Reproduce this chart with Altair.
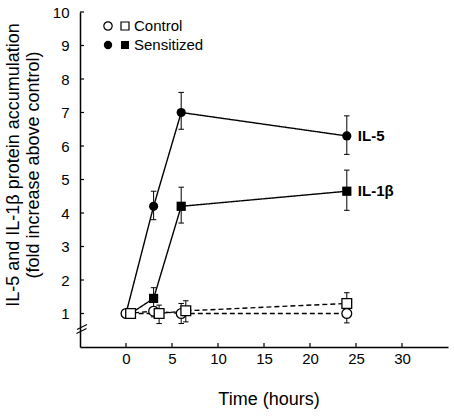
import altair as alt
import pandas as pd

FONT = "Liberation Sans"

# Sampling times (hours); squares are drawn slightly offset from circles
times_circle = [0, 3, 6, 24]
times_square_sens = [0.5, 3, 6, 24]
times_square_ctrl = [0.5, 3.6, 6.5, 24]

# Sensitized
il5_sens = [1.0, 4.2, 7.0, 6.3]
il5_sens_lo = [1.0, 3.8, 6.5, 5.75]
il5_sens_hi = [1.0, 4.65, 7.6, 6.9]
il1b_sens = [1.0, 1.45, 4.2, 4.65]
il1b_sens_lo = [1.0, 1.15, 3.7, 4.08]
il1b_sens_hi = [1.0, 1.77, 4.77, 5.28]

# Control
il5_ctrl = [1.0, 1.07, 1.0, 1.0]
il5_ctrl_lo = [1.0, 0.9, 0.7, 0.72]
il5_ctrl_hi = [1.0, 1.2, 1.3, 1.3]
il1b_ctrl = [1.0, 1.0, 1.08, 1.3]
il1b_ctrl_lo = [1.0, 0.7, 0.75, 1.0]
il1b_ctrl_hi = [1.0, 1.25, 1.38, 1.62]

y_ticks = [1, 2, 3, 4, 5, 6, 7, 8, 9, 10]
x_ticks = [0, 5, 10, 15, 20, 25, 30]
legend_labels = ["Control", "Sensitized"]
x_title = "Time (hours)"
y_title = ["IL-5 and IL-1β protein accumulation", "(fold increase above control)"]


def series(name, cytokine, group, t, v, lo, hi):
    return pd.DataFrame({
        "series": name, "cytokine": cytokine, "group": group,
        "time": t, "value": v, "lo": lo, "hi": hi,
    })


df = pd.concat([
    series("s5", "IL-5", "Sensitized", times_circle, il5_sens, il5_sens_lo, il5_sens_hi),
    series("s1", "IL-1β", "Sensitized", times_square_sens, il1b_sens, il1b_sens_lo, il1b_sens_hi),
    series("c5", "IL-5", "Control", times_circle, il5_ctrl, il5_ctrl_lo, il5_ctrl_hi),
    series("c1", "IL-1β", "Control", times_square_ctrl, il1b_ctrl, il1b_ctrl_lo, il1b_ctrl_hi),
], ignore_index=True)

xs = alt.Scale(domain=[-5, 35], nice=False, zero=False)
ys = alt.Scale(domain=[0, 10], nice=False, zero=False)
shape_scale = alt.Scale(domain=["IL-5", "IL-1β"], range=["circle", "square"])

label_style = dict(labelFont=FONT, labelFontSize=15, labelColor="black", labelOverlap=False)

x_axis = alt.Axis(values=x_ticks, ticks=False, grid=False, labelPadding=4, title=None, **label_style)
y_axis = alt.Axis(values=y_ticks, ticks=False, grid=False, labelPadding=11, title=None, **label_style)

# Every layer shares the same scale and axis definition
X = lambda f: alt.X(f, scale=xs, axis=x_axis)
Y = lambda f: alt.Y(f, scale=ys, axis=y_axis)

base = alt.Chart(df)

lines = base.mark_line(color="black", strokeWidth=1.4).encode(
    x=X("time:Q"),
    y=Y("value:Q"),
    detail="series:N",
    strokeDash=alt.StrokeDash("group:N", scale=alt.Scale(domain=["Control", "Sensitized"],
                                                          range=[[5, 3], [1, 0]]), legend=None),
)

err = base.mark_rule(color="black", strokeWidth=1).encode(
    x=X("time:Q"), y=Y("lo:Q"), y2="hi:Q"
)

caps = base.transform_calculate(a="datum.time - 0.3", b="datum.time + 0.3")
caps_lo = caps.mark_rule(color="black", strokeWidth=1).encode(x=X("a:Q"), x2="b:Q", y=Y("lo:Q"))
caps_hi = caps.mark_rule(color="black", strokeWidth=1).encode(x=X("a:Q"), x2="b:Q", y=Y("hi:Q"))

pts_sens = base.transform_filter("datum.group == 'Sensitized'").mark_point(
    filled=True, color="black", size=85, opacity=1).encode(
    x=X("time:Q"), y=Y("value:Q"), shape=alt.Shape("cytokine:N", scale=shape_scale, legend=None))

pts_ctrl = base.transform_filter("datum.group == 'Control'").mark_point(
    fill="white", stroke="black", strokeWidth=1.3, size=95, opacity=1, fillOpacity=1).encode(
    x=X("time:Q"), y=Y("value:Q"), shape=alt.Shape("cytokine:N", scale=shape_scale, legend=None))

end_labels = base.transform_filter("datum.group == 'Sensitized' && datum.time == 24").mark_text(
    align="left", baseline="middle", dx=11, font=FONT, fontSize=15, fontWeight="bold",
    color="black").encode(x=X("time:Q"), y=Y("value:Q"), text="cytokine:N")

# Inward tick marks on both axes
yt = alt.Chart(pd.DataFrame({"v": y_ticks})).mark_rule(color="black", strokeWidth=1.2).encode(
    y=Y("v:Q"), x=alt.value(0), x2=alt.value(4))
xt = alt.Chart(pd.DataFrame({"v": x_ticks})).mark_rule(color="black", strokeWidth=1.2).encode(
    x=X("v:Q"), y=alt.value(335), y2=alt.value(331))

# Axis break on the y axis
brk1 = alt.Chart(pd.DataFrame({"k": [0]})).mark_rule(color="black", strokeWidth=1.2).encode(
    x=alt.value(-3.5), x2=alt.value(6.5), y=alt.value(321.5), y2=alt.value(316.5))
brk2 = alt.Chart(pd.DataFrame({"k": [0]})).mark_rule(color="black", strokeWidth=1.2).encode(
    x=alt.value(-3), x2=alt.value(7), y=alt.value(317.5), y2=alt.value(312.5))

# Axis titles
xtitle = alt.Chart(pd.DataFrame({"t": [x_title]})).mark_text(
    font=FONT, fontSize=18, color="black", align="center", baseline="middle").encode(
    x=alt.value(189), y=alt.value(388), text="t:N")
ytitle1 = alt.Chart(pd.DataFrame({"t": [y_title[0]]})).mark_text(
    font=FONT, fontSize=18, color="black", align="center", baseline="middle", angle=270).encode(
    x=alt.value(-66), y=alt.value(153), text="t:N")
ytitle2 = alt.Chart(pd.DataFrame({"t": [y_title[1]]})).mark_text(
    font=FONT, fontSize=18, color="black", align="center", baseline="middle", angle=270).encode(
    x=alt.value(-46), y=alt.value(153), text="t:N")

# Legend: circle + square per group
leg_y = {"Control": 14, "Sensitized": 33}


def legend_row(label, filled):
    d = alt.Chart(pd.DataFrame({"label": [label]}))
    kw = dict(filled=True, color="black") if filled else dict(fill="white", stroke="black", strokeWidth=1.2)
    c = d.mark_point(shape="circle", size=70, opacity=1, **kw).encode(
        x=alt.value(28), y=alt.value(leg_y[label]))
    s = d.mark_point(shape="square", size=64, opacity=1, **kw).encode(
        x=alt.value(45), y=alt.value(leg_y[label]))
    t = d.mark_text(align="left", baseline="middle", font=FONT, fontSize=15, color="black").encode(
        x=alt.value(54), y=alt.value(leg_y[label]), text="label:N")
    return c + s + t


chart = alt.layer(
    lines, err, caps_lo, caps_hi, pts_sens, pts_ctrl, end_labels, yt, xt, brk1, brk2,
    xtitle, ytitle1, ytitle2,
    legend_row(legend_labels[0], False), legend_row(legend_labels[1], True),
).properties(
    width=368, height=335,
    autosize=alt.AutoSizeParams(type="none"),
    padding={"left": 80, "top": 12, "right": 6, "bottom": 69},
).configure_view(stroke=None).configure_axis(
    domainColor="black", domainWidth=1.5,
)

chart.save("out.html", embed_options={"renderer": "svg", "actions": False})
